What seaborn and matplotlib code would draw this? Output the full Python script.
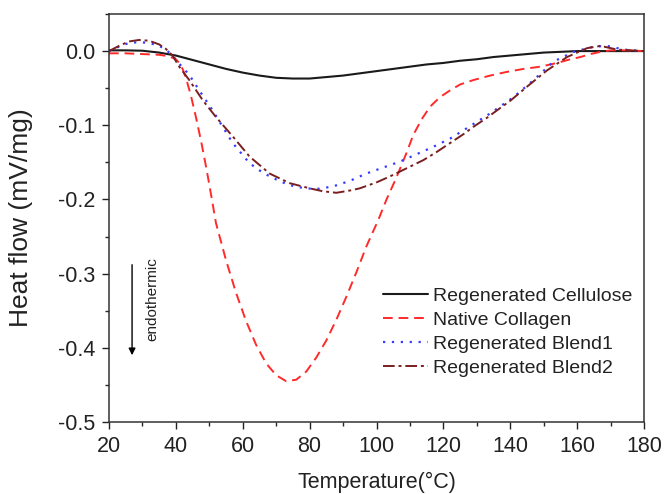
import matplotlib
matplotlib.use("Agg")
import matplotlib.pyplot as plt
import seaborn as sns
import pandas as pd
from matplotlib.ticker import MultipleLocator

# ---- data ----
cell_x = [20, 25, 30, 35, 40, 45, 50, 55, 60, 65, 70, 75, 80, 85, 90, 95, 100, 105, 110,
          115, 120, 125, 130, 135, 140, 145, 150, 155, 160, 165, 170, 175, 180]
cell_y = [0.001, 0.001, 0.0005, -0.002, -0.006, -0.012, -0.018, -0.024, -0.029, -0.033,
          -0.036, -0.037, -0.037, -0.035, -0.033, -0.030, -0.027, -0.024, -0.021,
          -0.018, -0.016, -0.013, -0.011, -0.008, -0.006, -0.004, -0.002, -0.001,
          0.0, 0.0, 0.0, 0.0, 0.0]

coll_x = [20, 25, 30, 35, 38, 40, 41, 42, 43, 44.5, 46.2, 47.7, 49.2, 50.5, 52, 55, 58, 61,
          64, 67, 70, 73, 76, 79, 82, 85, 88, 91, 94, 97, 100.5, 103, 106, 109, 111,
          113.5, 116, 119, 122, 125, 129, 134, 139, 144, 149, 154, 158, 161, 164, 167,
          170, 175, 180]
coll_y = [-0.003, -0.003, -0.004, -0.005, -0.007, -0.011, -0.016, -0.024, -0.036, -0.060,
          -0.093, -0.125, -0.160, -0.193, -0.232, -0.282, -0.326, -0.364, -0.396, -0.421,
          -0.437, -0.445, -0.443, -0.432, -0.413, -0.390, -0.362, -0.331, -0.298,
          -0.263, -0.228, -0.200, -0.170, -0.137, -0.113, -0.092, -0.075, -0.062,
          -0.053, -0.045, -0.039, -0.033, -0.028, -0.024, -0.021, -0.016, -0.011,
          -0.008, -0.004, -0.001, 0.001, 0.001, 0.0]

b1_x = [20, 23, 26, 29, 32, 35, 37, 39, 41, 44, 47, 51, 54, 57, 62, 66, 69, 73, 76, 79,
        82, 85, 88, 92, 97, 102, 107, 112, 117, 122, 127, 134, 141, 147, 153, 159, 165,
        169, 174, 180]
b1_y = [0.0, 0.006, 0.011, 0.012, 0.011, 0.007, 0.002, -0.006, -0.017, -0.032, -0.053,
        -0.080, -0.102, -0.124, -0.151, -0.164, -0.171, -0.179, -0.183, -0.185, -0.186,
        -0.184, -0.181, -0.175, -0.165, -0.157, -0.149, -0.139, -0.129, -0.118, -0.104,
        -0.084, -0.062, -0.039, -0.014, -0.001, 0.006, 0.007, 0.002, 0.0]

b2_x = [20, 23, 26, 29, 32, 35, 37, 39, 41, 44, 48, 52, 57, 62, 68, 74, 80, 84, 88, 92,
        95, 100, 104, 109, 114, 118, 122, 126, 129, 133, 136, 140, 145, 151, 157, 163,
        167, 172, 176, 180]
b2_y = [0.0, 0.007, 0.013, 0.015, 0.014, 0.009, 0.003, -0.006, -0.021, -0.039, -0.066,
        -0.089, -0.115, -0.142, -0.165, -0.178, -0.185, -0.189, -0.191, -0.188, -0.185,
        -0.177, -0.169, -0.158, -0.147, -0.136, -0.124, -0.112, -0.102, -0.090, -0.080,
        -0.067, -0.048, -0.026, -0.008, 0.004, 0.007, 0.002, 0.001, 0.0]

labels = ["Regenerated Cellulose", "Native Collagen", "Regenerated Blend1", "Regenerated Blend2"]
colors = ["#1a1a1a", "#ff2a2a", "#3a3aff", "#7a1f1f"]

x_ticks = [20, 40, 60, 80, 100, 120, 140, 160, 180]
y_ticks = [0.0, -0.1, -0.2, -0.3, -0.4, -0.5]

# ---- style ----
sns.set_style("ticks")
plt.rcParams["font.family"] = ["Liberation Sans", "DejaVu Sans"]

fig = plt.figure(figsize=(6.65, 4.94), dpi=100)
ax = fig.add_axes([109 / 665, 1 - 422 / 494, 535 / 665, 408 / 494])

series = [(cell_x, cell_y), (coll_x, coll_y), (b1_x, b1_y), (b2_x, b2_y)]
styles = [dict(linestyle="-", lw=1.5),
          dict(dashes=(5, 3), lw=1.4),
          dict(dashes=(1, 3), lw=1.6),
          dict(dashes=(6, 2, 1.5, 2), lw=1.4)]

for (xs, ys), lab, col, st in zip(series, labels, colors, styles):
    df = pd.DataFrame({"x": xs, "y": ys})
    line_kw = dict(st)
    lw = line_kw.pop("lw")
    sns.lineplot(data=df, x="x", y="y", ax=ax, color=col, label=lab, sort=False,
                 estimator=None, linewidth=lw, **line_kw)

ax.set_xlim(20, 180)
ax.set_ylim(-0.5, 0.05)
ax.set_xticks(x_ticks)
ax.set_yticks(y_ticks)
ax.set_xticklabels([str(v) for v in x_ticks])
ax.set_yticklabels(["0.0" if v == 0 else f"{v:.1f}" for v in y_ticks])
ax.xaxis.set_minor_locator(MultipleLocator(10))
ax.yaxis.set_minor_locator(MultipleLocator(0.05))
ax.tick_params(which="major", direction="out", length=5, width=1.0, labelsize=15.5,
               colors="#222222", pad=5)
ax.tick_params(which="minor", direction="out", length=3, width=1.0)
ax.tick_params(which="both", top=False, right=False)
for s in ax.spines.values():
    s.set_visible(True)
    s.set_linewidth(1.1)
    s.set_color("#333333")

ax.set_xlabel("Temperature(°C)", fontsize=15.5, color="#222222", labelpad=11)
ax.set_ylabel("Heat flow (mV/mg)", fontsize=19, color="#222222", labelpad=18)

leg = ax.legend(loc="upper left", bbox_to_anchor=(0.512, 0.33), frameon=False,
                fontsize=14, handlelength=2.3, handletextpad=0.25, labelspacing=0.33,
                borderpad=0, borderaxespad=0)
for t in leg.get_texts():
    t.set_color("#222222")

ax.annotate("", xy=(26.9, -0.41), xytext=(26.9, -0.288),
            arrowprops=dict(arrowstyle="-|>", color="black", lw=1.0,
                            mutation_scale=10, shrinkA=0, shrinkB=0))
ax.text(32.9, -0.334, "endothermic", rotation=90, fontsize=11, ha="center", va="center",
        color="#222222")

fig.savefig("out.png", dpi=100)
